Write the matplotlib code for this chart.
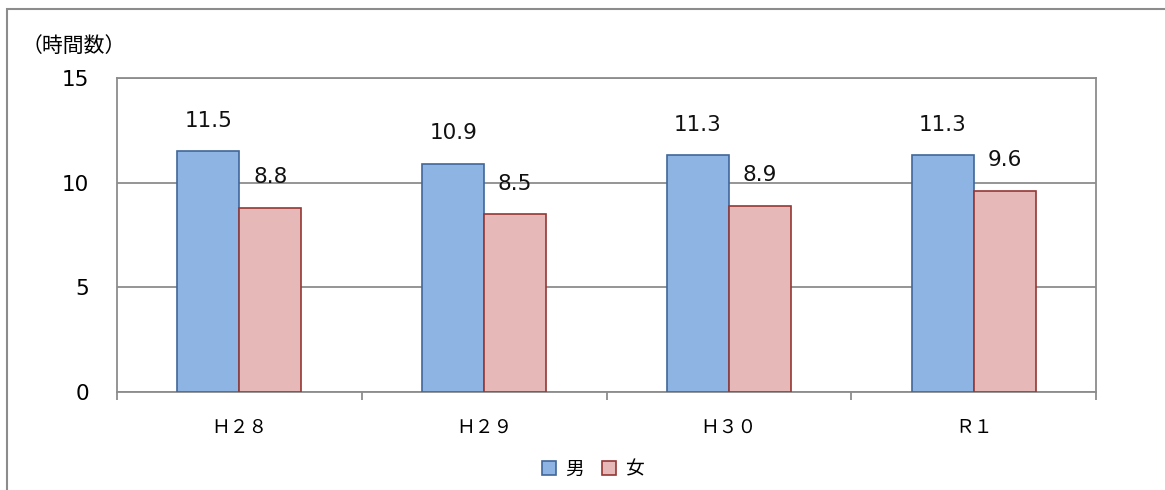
import matplotlib
matplotlib.use("Agg")
import matplotlib.pyplot as plt
import matplotlib.patches as mpatches
import numpy as np

plt.rcParams['font.family'] = ['DejaVu Sans', 'Noto Sans CJK JP']

categories = ['Ｈ２８', 'Ｈ２９', 'Ｈ３０', 'Ｒ１']
men = [11.5, 10.9, 11.3, 11.3]
women = [8.8, 8.5, 8.9, 9.6]
series_names = ['男', '女']
y_ticks = [0, 5, 10, 15]

fig = plt.figure(figsize=(11.65, 4.9), dpi=100)
ax = fig.add_axes([117/1165, 1-392/490, (1096-117)/1165, (392-78)/490])

# outer chart border
fig.patches.append(mpatches.Rectangle((7/1165, -0.1), 1.2, 1.1 - 9/490,
                                      transform=fig.transFigure, fill=False,
                                      edgecolor='#8c8c8c', linewidth=1.5, zorder=0))

x = np.arange(len(categories))
w = 0.253
blue_face, blue_edge = '#8eb4e3', '#41679a'
pink_face, pink_edge = '#e6b9b8', '#953735'
b1 = ax.bar(x - w/2, men, w, color=blue_face, edgecolor=blue_edge, linewidth=1.2, zorder=3, label=series_names[0])
b2 = ax.bar(x + w/2, women, w, color=pink_face, edgecolor=pink_edge, linewidth=1.2, zorder=3, label=series_names[1])

for bars, vals in ((b1, men), (b2, women)):
    for r, v in zip(bars, vals):
        ax.annotate(f'{v:.1f}', (r.get_x() + r.get_width()/2, v), xytext=(0, 22),
                    textcoords='offset points', ha='center', va='center', fontsize=15.5, color='#111111')

ax.set_xlim(-0.5, len(categories) - 0.5)
ax.set_ylim(0, 15)
ax.set_yticks(y_ticks)
ax.set_yticklabels([str(t) for t in y_ticks], fontsize=15.5)
ax.tick_params(axis='y', length=0, pad=20)
ax.yaxis.grid(True, color='#8c8c8c', linewidth=1.3, zorder=0)
ax.set_axisbelow(True)

ax.set_xticks(np.arange(len(categories) + 1) - 0.5)
ax.set_xticklabels([])
ax.tick_params(axis='x', which='major', length=6, color='#8c8c8c', width=1.3, direction='out')
ax.set_xticks(x, minor=True)
ax.set_xticklabels(categories, minor=True, fontsize=13.5, family=['Noto Sans CJK JP'])
ax.tick_params(axis='x', which='minor', length=0, pad=18)

for s in ax.spines.values():
    s.set_color('#8c8c8c')
    s.set_linewidth(1.3)

fig.text(22/1165, 1-46/490, '（時間数）', fontsize=15, ha='left', va='center',
         family=['Noto Sans CJK JP'])

leg = fig.legend(handles=[b1, b2], labels=series_names, loc='center',
                 bbox_to_anchor=(593/1165, 1-469/490), ncol=2, frameon=False,
                 prop={'family': 'Noto Sans CJK JP', 'size': 13.5},
                 handlelength=0.75, handleheight=0.75, handletextpad=0.45, columnspacing=1.0)

fig.savefig('out.png', dpi=100)
